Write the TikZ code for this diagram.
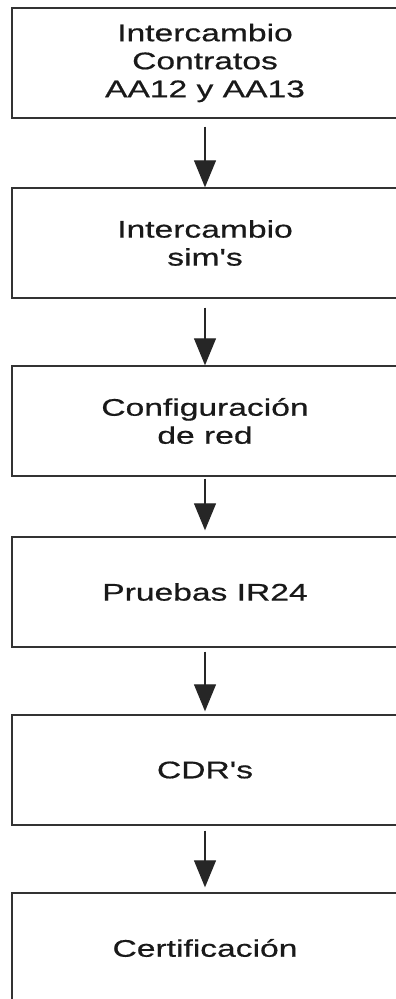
\documentclass[tikz,border=0pt]{standalone}
\usepackage{fontspec}
\setmainfont{Liberation Sans}
\newfontfamily\widefont[FakeStretch=1.4,FakeBold=0.6]{Liberation Sans}
\usetikzlibrary{arrows.meta}
\begin{document}
\begin{tikzpicture}[x=1pt,y=-1pt,
  stepbox/.style={draw=black!80, line width=1.4pt, minimum width=386pt,
    minimum height=110pt, inner sep=0pt, align=center,
    font=\widefont\fontsize{24}{28}\selectfont, text=black!90},
  flow/.style={line width=1.2pt, draw=black!85,
    -{Triangle[width=22pt,length=27pt]}}]
\useasboundingbox (0,0) rectangle (396,999);
\fill[white] (0,0) rectangle (396,999);
\node[stepbox] (s1) at (205,63) {Intercambio\\Contratos\\AA12 y AA13};
\node[stepbox] (s2) at (205,243) {Intercambio\\sim's};
\node[stepbox] (s3) at (205,421) {Configuración\\de red};
\node[stepbox] (s4) at (205,592) {Pruebas IR24};
\node[stepbox] (s5) at (205,770) {CDR's};
\node[stepbox] (s6) at (205,948) {Certificación};
\draw[flow] ([yshift=-8pt]s1.south) -- (s2.north);
\draw[flow] ([yshift=-9pt]s2.south) -- (s3.north);
\draw[flow] ([yshift=-2pt]s3.south) -- ([yshift=6pt]s4.north);
\draw[flow] ([yshift=-4pt]s4.south) -- ([yshift=3pt]s5.north);
\draw[flow] ([yshift=-5pt]s5.south) -- ([yshift=5pt]s6.north);
\end{tikzpicture}
\end{document}
